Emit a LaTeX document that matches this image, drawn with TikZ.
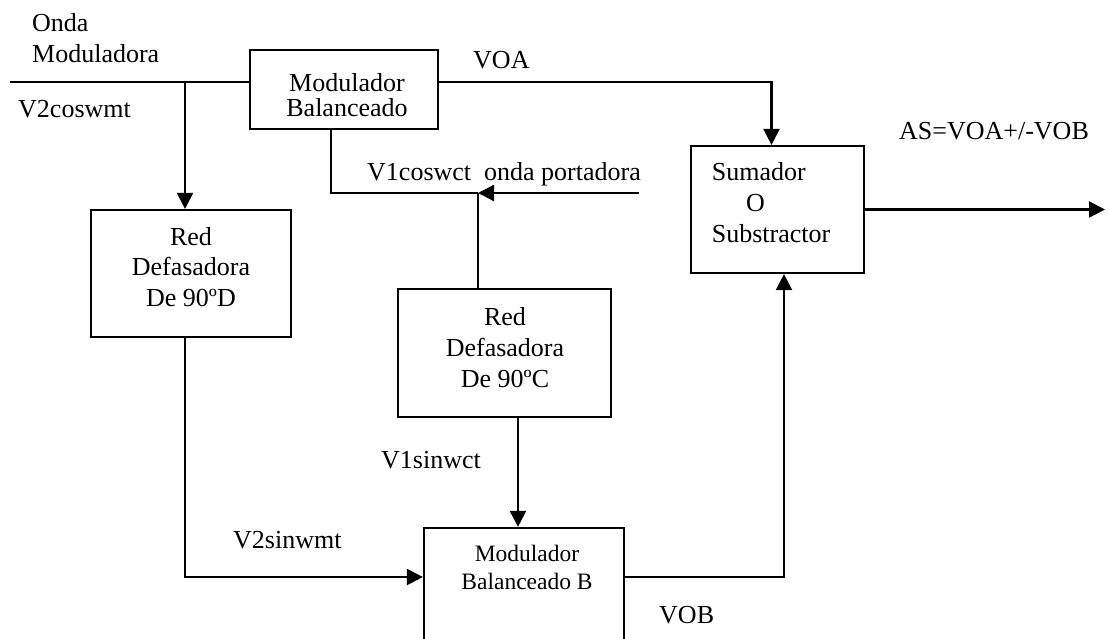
\documentclass[tikz,border=0pt]{standalone}
\usepackage{fontspec}
\setmainfont{Liberation Serif}
\usetikzlibrary{arrows.meta}
\begin{document}
\begin{tikzpicture}[x=1pt,y=-1pt,
  wire/.style={line width=2.2pt},
  flow/.style={wire,-{Triangle[length=16pt,width=16pt]}},
  blockbox/.style={draw,line width=2.2pt,inner sep=0pt},
  lbl/.style={inner sep=0pt,font=\fontsize{26}{30}\selectfont},
]
\useasboundingbox (0,0) rectangle (1108,638);
\clip (0,0) rectangle (1108,638);

% blocks
\node[blockbox,minimum width=188pt,minimum height=79pt]  (modA) at (344,89.5) {};
\node[blockbox,minimum width=200pt,minimum height=127pt] (redD) at (191,273.5) {};
\node[blockbox,minimum width=213pt,minimum height=128pt] (redC) at (504.5,353) {};
\node[blockbox,minimum width=200pt,minimum height=140pt] (modB) at (524,598) {};
\node[blockbox,minimum width=173pt,minimum height=127pt] (sum)  at (777.5,209.5) {};

% block texts
\node[lbl,align=center,font=\fontsize{26}{25}\selectfont] (modAtxt) at (347,95) {Modulador\\Balanceado};
\node[lbl,align=center,font=\fontsize{26}{30.5}\selectfont] (redDtxt) at (191,266.6) {Red\\Defasadora\\De 90ºD};
\node[lbl,align=center,font=\fontsize{26}{31}\selectfont] (redCtxt) at (505,347.1) {Red\\Defasadora\\De 90ºC};
\node[lbl,align=center,font=\fontsize{23.5}{27.6}\selectfont] (modBtxt) at (527,567.5) {Modulador\\Balanceado B};
\node[lbl,align=left,anchor=west,font=\fontsize{26}{31}\selectfont] (sumtxt) at (711.7,202.5) {Sumador\\\hspace*{34.3pt}O\\Substractor};

% signal labels
\node[lbl,align=left,anchor=west,font=\fontsize{26}{31}\selectfont] (inTxt) at (32,38.6) {Onda\\Moduladora};
\node[lbl,anchor=base west] (v2cos) at (18,117) {V2coswmt};
\node[lbl,anchor=base west] (voa) at (473,68) {VOA};
\node[lbl,anchor=base west] (v1cos) at (367,180) {V1coswct\ \ onda portadora};
\node[lbl,anchor=base west] (asout) at (899,139) {AS=VOA+/-VOB};
\node[lbl,anchor=base west] (v1sin) at (381,468) {V1sinwct};
\node[lbl,anchor=base west] (v2sin) at (233,548) {V2sinwmt};
\node[lbl,anchor=base west] (vob) at (659,623) {VOB};

% connection points
\coordinate (inL) at (10,82);
\coordinate (j1) at (185,82);
\coordinate (carIn) at (639,193);
\coordinate (j2) at (478,193);
\coordinate (lvlB) at (0,577);
\coordinate (out) at (1105,209.5);

% modulating input and its branch
\draw[wire] (inL) -- (inL -| modA.west);
\draw[flow] (j1) -- (j1 |- redD.north);

% VOA to the summer
\draw[flow] (inL -| modA.east) -| ([xshift=-6pt]sum.north);

% carrier input
\draw[flow] (carIn) -- (j2);
\draw[wire] (j2) -| ([xshift=-13pt]modA.south);
\draw[wire] (j2) -- (j2 |- redC.north);

% quadrature paths into modulator B
\draw[flow] ([xshift=13.5pt]redC.south) -- ([xshift=13.5pt]redC.south |- modB.north);
\draw[flow] ([xshift=-6pt]redD.south) |- (modB.west |- lvlB);

% VOB to the summer and output
\draw[flow] (modB.east |- lvlB) -| ([xshift=6.5pt]sum.south);
\draw[flow] (sum.east) -- (out);
\end{tikzpicture}
\end{document}
